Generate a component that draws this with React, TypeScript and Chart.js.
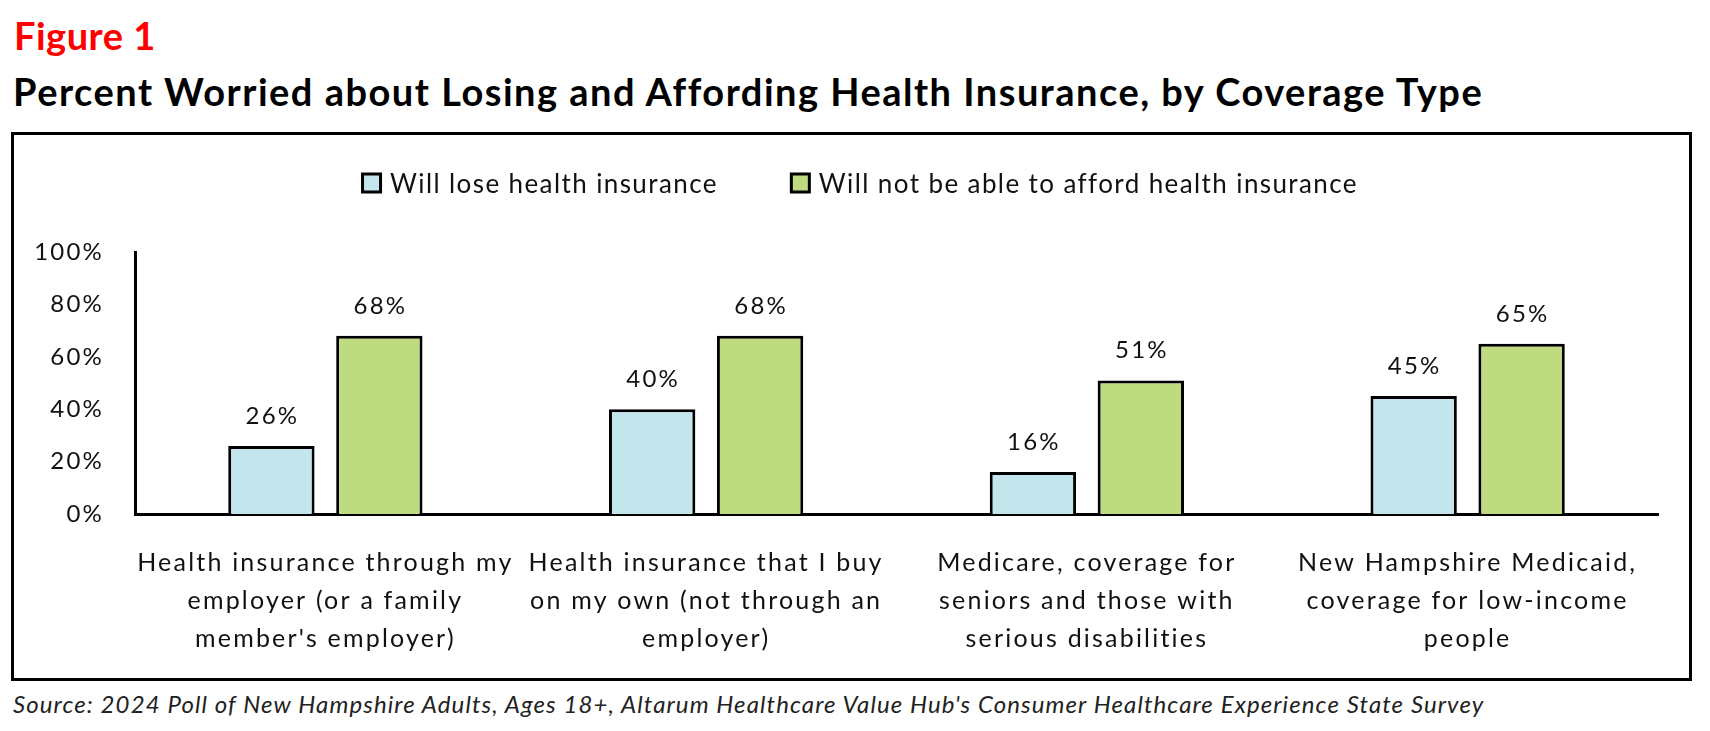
import React, { useEffect, useRef } from "react";
import { Chart, registerables } from "chart.js";

Chart.register(...registerables);

// ---------- data ----------
const categories: string[][] = [
  ["Health insurance through my", "employer (or a family", "member's employer)"],
  ["Health insurance that I buy", "on my own (not through an", "employer)"],
  ["Medicare, coverage for", "seniors and those with", "serious disabilities"],
  ["New Hampshire Medicaid,", "coverage for low-income", "people"],
];
const seriesNames = ["Will lose health insurance", "Will not be able to afford health insurance"];
const loseValues = [26, 40, 16, 45];
const affordValues = [68, 68, 51, 65];
const yTickValues = [0, 20, 40, 60, 80, 100];

const figureLabel = "Figure 1";
const titleText = "Percent Worried about Losing and Affording Health Insurance, by Coverage Type";
const sourceText =
  "Source: 2024 Poll of New Hampshire Adults, Ages 18+, Altarum Healthcare Value Hub's Consumer Healthcare Experience State Survey";

// ---------- style ----------
const FONT = "Lato";
const BLUE = "#c2e6eb";
const GREEN = "#bedb80";
const INK = "#111111";
const TICK_SPACING = "2.2px";

const CANVAS_W = 1675;
const CANVAS_H = 543;

const spacingPlugin = {
  id: "letterSpacing",
  beforeUpdate(chart: any) {
    chart.ctx.letterSpacing = TICK_SPACING;
  },
  beforeDraw(chart: any) {
    chart.ctx.letterSpacing = TICK_SPACING;
  },
};

const legendPlugin = {
  id: "customLegend",
  afterDraw(chart: any) {
    const ctx = chart.ctx;
    const size = 26;
    const box = 21;
    const gapBoxText = 8;
    const gapItems = 72;
    ctx.save();
    ctx.font = `${size}px ${FONT}`;
    ctx.letterSpacing = "1.4px";
    const items = chart.data.datasets.map((d: any) => ({
      text: d.label,
      color: d.backgroundColor,
      w: ctx.measureText(d.label).width,
    }));
    let total = 0;
    items.forEach((it: any, i: number) => {
      total += box + gapBoxText + it.w + (i < items.length - 1 ? gapItems : 0);
    });
    let x = chart.width / 2 + 8 - total / 2;
    const cy = 48;
    items.forEach((it: any) => {
      ctx.fillStyle = it.color;
      ctx.fillRect(x + 1.5, cy - box / 2 + 1.5, box - 3, box - 3);
      ctx.lineWidth = 3;
      ctx.strokeStyle = "#000";
      ctx.strokeRect(x + 1.5, cy - box / 2 + 1.5, box - 3, box - 3);
      ctx.fillStyle = INK;
      ctx.textAlign = "left";
      ctx.textBaseline = "alphabetic";
      ctx.fillText(it.text, x + box + gapBoxText, cy + 10);
      x += box + gapBoxText + it.w + gapItems;
    });
    ctx.restore();
  },
};

const valueLabelPlugin = {
  id: "valueLabels",
  afterDatasetsDraw(chart: any) {
    const ctx = chart.ctx;
    ctx.save();
    ctx.font = `24px ${FONT}`;
    ctx.letterSpacing = TICK_SPACING;
    ctx.fillStyle = INK;
    ctx.textAlign = "center";
    ctx.textBaseline = "alphabetic";
    chart.data.datasets.forEach((ds: any, i: number) => {
      const meta = chart.getDatasetMeta(i);
      meta.data.forEach((bar: any, j: number) => {
        ctx.fillText(`${ds.data[j]}%`, bar.x + 1, bar.y - 22);
      });
    });
    ctx.restore();
  },
};

function BarChart() {
  const ref = useRef<HTMLCanvasElement | null>(null);
  useEffect(() => {
    if (!ref.current) return;
    const chart = new Chart(ref.current, {
      type: "bar",
      data: {
        labels: categories,
        datasets: [
          {
            label: seriesNames[0],
            data: loseValues,
            backgroundColor: BLUE,
            borderColor: "#000",
            borderWidth: 3,
          },
          {
            label: seriesNames[1],
            data: affordValues,
            backgroundColor: GREEN,
            borderColor: "#000",
            borderWidth: 3,
          },
        ],
      },
      options: {
        animation: false,
        responsive: false,
        maintainAspectRatio: false,
        devicePixelRatio: 1,
        datasets: {
          bar: { categoryPercentage: 0.567, barPercentage: 0.8 },
        },
        layout: { padding: { top: 117, right: 31, bottom: 0, left: 0 } },
        plugins: {
          legend: { display: false },
          tooltip: { enabled: false },
          title: { display: false },
        },
        scales: {
          x: {
            grid: { display: false, drawTicks: false },
            border: { display: true, color: "#000", width: 3 },
            ticks: {
              autoSkip: false,
              maxRotation: 0,
              minRotation: 0,
              padding: 30,
              color: INK,
              font: { family: FONT, size: 25, lineHeight: "38px" },
            },
            afterFit: (scale: any) => {
              scale.height = CANVAS_H - 379;
            },
          },
          y: {
            min: 0,
            max: 100,
            afterBuildTicks: (scale: any) => {
              scale.ticks = yTickValues.map((v) => ({ value: v }));
            },
            grid: { display: false, drawTicks: false },
            border: { display: true, color: "#000", width: 3 },
            ticks: {
              padding: 31,
              color: INK,
              font: { family: FONT, size: 24 },
              callback: (v: any) => `${v}%`,
            },
            afterFit: (scale: any) => {
              scale.width = 121;
            },
          },
        },
      },
      plugins: [spacingPlugin, legendPlugin, valueLabelPlugin],
    });
    return () => chart.destroy();
  }, []);
  return (
    <canvas
      ref={ref}
      width={CANVAS_W}
      height={CANVAS_H}
      style={{ position: "absolute", left: 0, top: 0, width: CANVAS_W, height: CANVAS_H }}
    />
  );
}

export default function App() {
  return (
    <div
      style={{
        position: "absolute",
        left: 0,
        top: 0,
        width: 1710,
        height: 731,
        background: "#fff",
        overflow: "hidden",
        fontFamily: FONT,
      }}
    >
      <div
        style={{
          position: "absolute",
          left: 14,
          top: 16,
          fontSize: 38,
          lineHeight: 1,
          fontWeight: 700,
          letterSpacing: "0.5px",
          color: "#ff0000",
          whiteSpace: "nowrap",
        }}
      >
        {figureLabel}
      </div>
      <div
        style={{
          position: "absolute",
          left: 13,
          top: 72,
          fontSize: 38,
          lineHeight: 1,
          fontWeight: 700,
          letterSpacing: "1.5px",
          color: "#000",
          whiteSpace: "nowrap",
        }}
      >
        {titleText}
      </div>
      <div
        style={{
          position: "absolute",
          left: 11,
          top: 132,
          width: 1681,
          height: 549,
          border: "3px solid #000",
          boxSizing: "border-box",
        }}
      >
        <BarChart />
      </div>
      <div
        style={{
          position: "absolute",
          left: 13,
          top: 692,
          fontSize: 24,
          lineHeight: 1,
          fontStyle: "italic",
          letterSpacing: "1.1px",
          color: "#222",
          whiteSpace: "nowrap",
        }}
      >
        {sourceText}
      </div>
    </div>
  );
}
